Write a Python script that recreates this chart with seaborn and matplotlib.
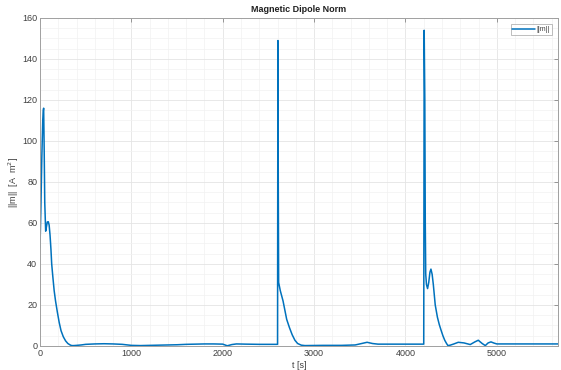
import matplotlib
matplotlib.use("Agg")
import matplotlib.pyplot as plt
from matplotlib.ticker import MultipleLocator
import pandas as pd
import seaborn as sns

# time samples [s] and dipole norm [A m^2]
t_s = [0, 10, 20, 30, 36, 40, 46, 52, 62, 70, 80, 91, 100, 110, 120, 128, 140,
       155, 170, 190, 210, 230, 255, 280, 305, 330, 347, 370, 400, 450, 500,
       600, 700, 800, 900, 1000, 1100, 1200, 1300, 1400, 1500, 1600, 1700,
       1800, 1900, 2000, 2050, 2100, 2150, 2250, 2400, 2500, 2600, 2604, 2608,
       2612, 2630, 2660, 2700, 2730, 2760, 2790, 2820, 2860, 2900, 3100, 3300,
       3450, 3520, 3580, 3640, 3700, 3850, 4000, 4100, 4200, 4205, 4212, 4217,
       4222, 4230, 4242, 4255, 4268, 4279, 4292, 4305, 4326, 4350, 4370, 4389,
       4410, 4430, 4450, 4465, 4490, 4530, 4578, 4640, 4709, 4760, 4797, 4840,
       4874, 4905, 4936, 4970, 5000, 5100, 5300, 5500, 5670]
m_norm = [48, 68, 92, 110, 115, 116, 95, 70, 56, 58, 60.5, 60.6, 59, 54, 47,
          40, 34, 27, 22, 16.5, 11.5, 7.5, 4.5, 2.5, 1.2, 0.5, 0.2, 0.2, 0.3,
          0.5, 0.8, 1.0, 1.1, 1.0, 0.8, 0.3, 0.2, 0.3, 0.4, 0.5, 0.6, 0.8,
          0.9, 1.0, 1.0, 0.9, 0.1, 0.7, 1.0, 0.9, 0.8, 0.8, 0.8, 149, 80,
          31, 27, 22, 13, 9, 5.5, 2.8, 1.2, 0.4, 0.2, 0.3, 0.3,
          0.5, 1.2, 1.8, 1.2, 0.9, 0.9, 0.9, 0.9, 0.9, 154, 120, 60,
          35, 30, 28, 31, 36, 37.5, 35, 30, 20, 14, 10.5, 7.8,
          5, 2.8, 1.2, 0.2, 0.4, 1.0, 1.8, 1.5, 0.7, 2.0, 2.8, 1.2,
          0.2, 1.5, 2.0, 1.4, 1.0, 1.0, 1.0, 1.0, 1.0]

x_ticks = [0, 1000, 2000, 3000, 4000, 5000]
y_ticks = [0, 20, 40, 60, 80, 100, 120, 140, 160]

df = pd.DataFrame({"t": t_s, "m": m_norm})

sns.set_style("white")
plt.rcParams["font.family"] = ["Liberation Sans", "DejaVu Sans"]

fig = plt.figure(figsize=(5.61, 3.70), dpi=100)
ax = fig.add_axes([0.0713, 0.0649, 0.9234, 0.8865])

sns.lineplot(data=df, x="t", y="m", ax=ax, color="#0072BD", linewidth=1.1,
             label="||m||", sort=False)

ax.set_xlim(0, 5670)
ax.set_ylim(0, 160)
ax.set_xticks(x_ticks)
ax.set_yticks(y_ticks)
ax.xaxis.set_minor_locator(MultipleLocator(200))
ax.yaxis.set_minor_locator(MultipleLocator(5))
ax.grid(which="major", color="#e4e4e4", linewidth=0.6)
ax.grid(which="minor", color="#f2f2f2", linewidth=0.5)
ax.set_axisbelow(True)

ax.tick_params(which="major", direction="in", length=3, width=0.6,
               color="#888888", labelsize=6.5, labelcolor="#404040",
               top=True, right=True, pad=2)
ax.tick_params(which="minor", length=0)
for sp in ax.spines.values():
    sp.set_color("#a0a0a0")
    sp.set_linewidth(0.7)

ax.set_title("Magnetic Dipole Norm", fontsize=6.5, fontweight="bold",
             color="#202020", pad=4)
ax.set_xlabel("t [s]", fontsize=6.5, color="#404040", labelpad=2)
ax.set_ylabel("||m||  [A  m$^2$]", fontsize=6.5, color="#404040", labelpad=1)

leg = ax.legend(loc="upper right", fontsize=5, frameon=True, fancybox=False,
                handlelength=3.2, borderpad=0.25, handletextpad=0.3,
                borderaxespad=0.9)
leg.get_frame().set_edgecolor("#a0a0a0")
leg.get_frame().set_linewidth(0.6)
for txt in leg.get_texts():
    txt.set_color("#404040")

fig.savefig("out.png", dpi=100)
